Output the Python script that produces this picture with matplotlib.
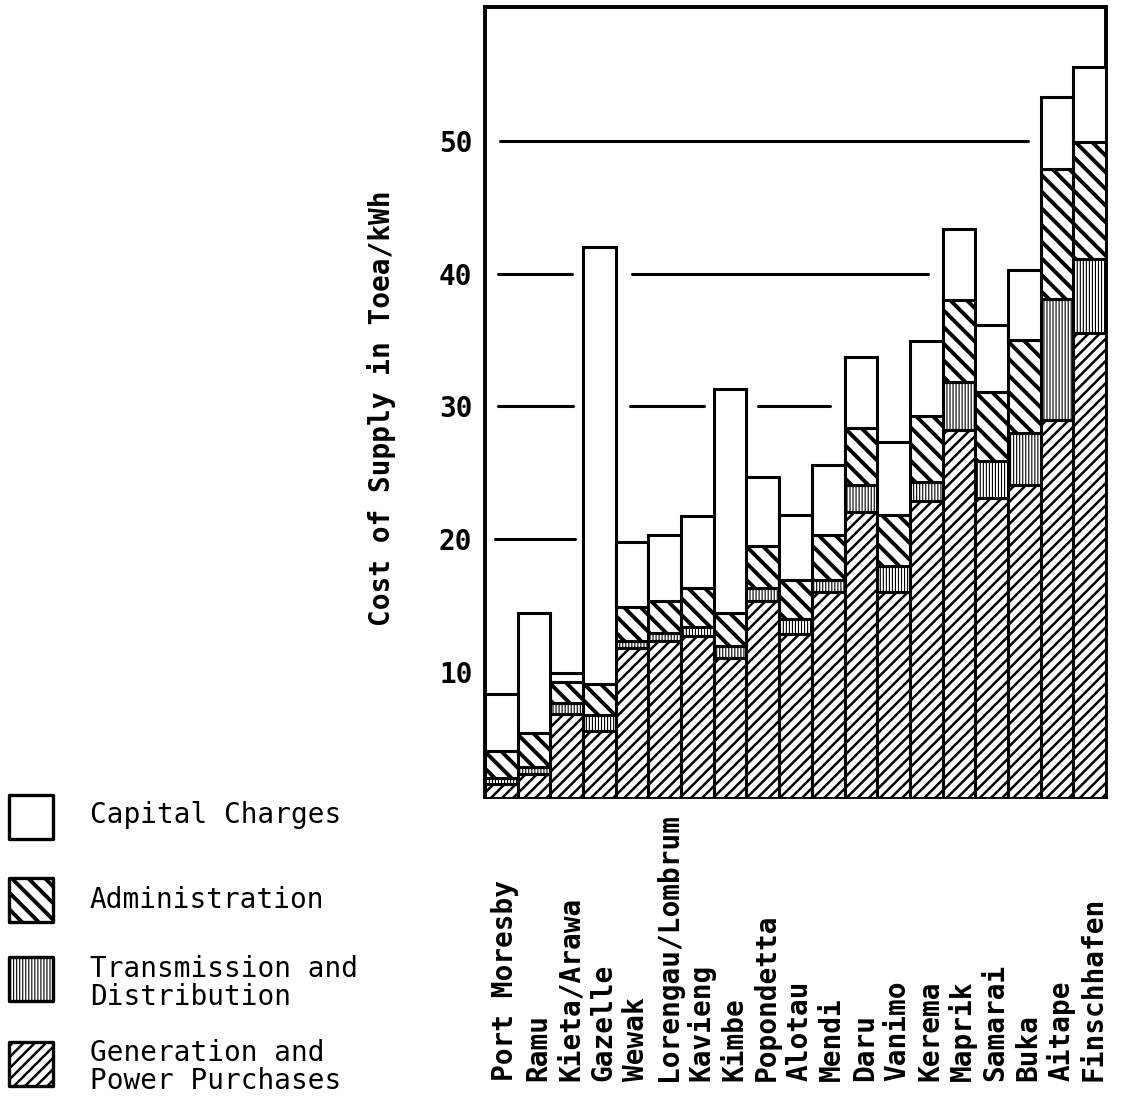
import matplotlib
matplotlib.use("Agg")
import matplotlib.pyplot as plt
from matplotlib.patches import Rectangle
import matplotlib.transforms as mtransforms
import numpy as np

# ---------------- data ----------------
categories = ["Port Moresby", "Ramu", "Kieta/Arawa", "Gazelle", "Wewak",
              "Lorengau/Lombrum", "Kavieng", "Kimbe", "Popondetta", "Alotau",
              "Mendi", "Daru", "Vanimo", "Kerema", "Maprik", "Samarai",
              "Buka", "Aitape", "Finschhafen"]
generation = [1.5, 2.3, 6.8, 5.5, 11.8, 12.3, 12.7, 11.0, 15.3, 12.8,
              16.0, 22.0, 16.0, 22.9, 28.2, 23.1, 24.1, 29.0, 35.5]
transmission = [0.5, 0.5, 0.8, 1.2, 0.5, 0.6, 0.7, 0.9, 1.0, 1.2,
                0.9, 2.1, 2.0, 1.4, 3.6, 2.8, 3.9, 9.1, 5.6]
administration = [2.0, 2.6, 1.6, 2.4, 2.6, 2.4, 2.9, 2.5, 3.2, 2.9,
                  3.4, 4.3, 3.8, 5.0, 6.2, 5.2, 7.0, 9.8, 8.8]
capital = [4.3, 9.0, 0.7, 32.9, 4.9, 5.0, 5.4, 16.9, 5.2, 4.9,
           5.3, 5.3, 5.5, 5.6, 5.4, 5.0, 5.3, 5.4, 5.7]
series_names = ["Capital Charges", "Administration",
                "Transmission and\nDistribution",
                "Generation and\nPower Purchases"]
yticks = [10, 20, 30, 40, 50]
ytick_labels = ["10", "20", "30", "40", "50"]
ylabel = "Cost of Supply in Toea/kWh"
# reference line pieces: (value, from category pos, to category pos)
ref_lines = [(50, -0.05, 16.1), (40, -0.1, 2.15), (40, 4.0, 13.05),
             (30, -0.1, 2.2), (30, 3.95, 6.2), (30, 7.85, 10.05),
             (20, -0.2, 2.25)]

# ---------------- figure ----------------
DPI = 200
W, H = 1122, 1099
fig = plt.figure(figsize=(W / DPI, H / DPI), dpi=DPI)
fig.patch.set_facecolor("white")
ax = fig.add_axes([485 / W, 1 - 797 / H, (1106 - 485) / W, (797 - 7) / H])

MONO = "DejaVu Sans Mono"
FS = 10

n = len(categories)
x = np.arange(n)
hatches = {"gen": "/" * 6, "td": "|" * 11, "adm": "\\" * 4, "cap": ""}
hatch_lw = {"gen": 0.9, "td": 0.4, "adm": 1.4, "cap": 1.0}
layers = [("gen", generation), ("td", transmission),
          ("adm", administration), ("cap", capital)]


def set_hlw(patch, lw):
    if hasattr(patch, "set_hatch_linewidth"):
        patch.set_hatch_linewidth(lw)


plt.rcParams["hatch.linewidth"] = 1.0
bottom = np.zeros(n)
for key, vals in layers:
    bars = ax.bar(x, vals, bottom=bottom, width=1.0, facecolor="white",
                  edgecolor="black", linewidth=1.1, hatch=hatches[key],
                  zorder=3)
    for p in bars:
        set_hlw(p, hatch_lw[key])
    bottom = bottom + np.array(vals)

for yv, x0, x1 in ref_lines:
    ax.hlines(yv, x0, x1, color="black", lw=1.1, zorder=1, capstyle="round")

ax.set_xlim(-0.5, n - 0.5)
ax.set_ylim(0.55, 60.1)
ax.set_xticks([])
ax.set_yticks(yticks)
ax.set_yticklabels(ytick_labels, fontfamily=MONO, fontweight="bold",
                   fontsize=FS)
ax.tick_params(axis="y", length=0, pad=4.5)
for s in ax.spines.values():
    s.set_linewidth(1.4)

# category labels, bottom-aligned
trans = mtransforms.blended_transform_factory(ax.transData, fig.transFigure)
for i, c in enumerate(categories):
    ax.text(i + 0.12, 1 - 1081 / H, c, rotation=90, ha="center", va="bottom",
            transform=trans, fontfamily=MONO, fontweight="bold", fontsize=FS)

fig.text(381 / W, 1 - 408 / H, ylabel, rotation=90, ha="center",
         va="center", fontfamily=MONO, fontweight="bold", fontsize=FS)

# legend (manual)
leg_keys = ["cap", "adm", "td", "gen"]
box_cy = [817, 900, 979, 1064]
text_cy = [815, 900, 983, 1067]
bw, bh = 44, 44
for key, cy, ty, name in zip(leg_keys, box_cy, text_cy, series_names):
    r = Rectangle((9 / W, 1 - (cy + bh / 2) / H), bw / W, bh / H,
                  transform=fig.transFigure, facecolor="white",
                  edgecolor="black", linewidth=1.2, hatch=hatches[key],
                  joinstyle="round")
    set_hlw(r, hatch_lw[key])
    fig.add_artist(r)
    fig.text(90 / W, 1 - ty / H, name, ha="left", va="center",
             fontfamily=MONO, fontsize=FS, linespacing=1.0)

fig.savefig("out.png", dpi=DPI, facecolor="white")
